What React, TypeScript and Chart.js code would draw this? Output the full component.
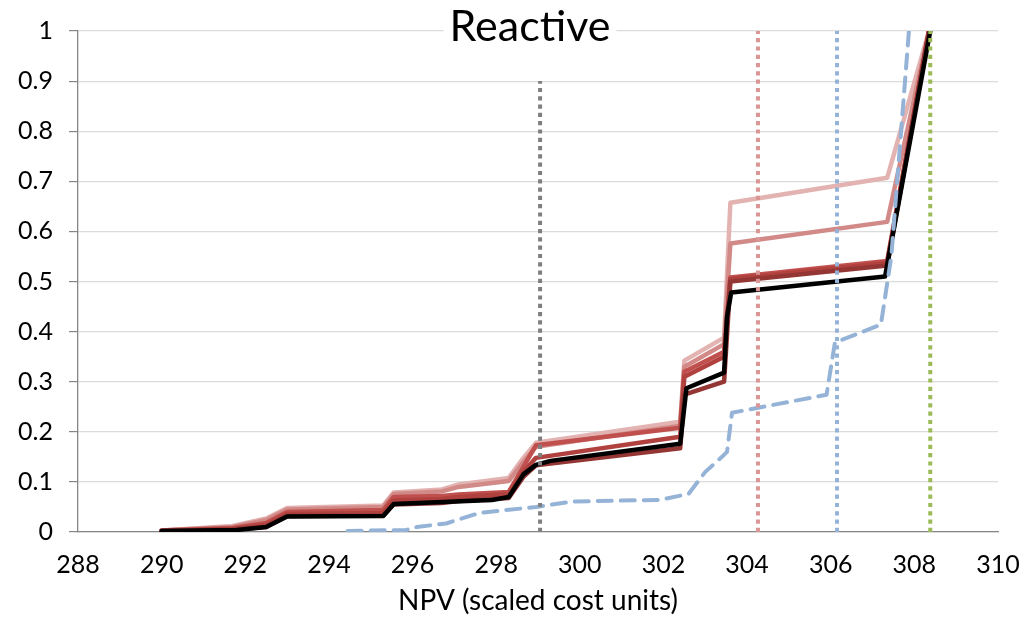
import React, { useEffect, useRef } from "react";
import { Chart, registerables } from "chart.js";

Chart.register(...registerables);

// ---- data ----
const xTickMin = 288;
const xTickMax = 310;
const xStep = 2;
const yStep = 0.1;
const chartTitle = "Reactive";
const xAxisTitle = "NPV (scaled cost units)";

// shared NPV breakpoints of the red CDF curves
const redX = [290, 291.7, 292.5, 293.0, 295.3, 295.55, 296.7, 297.1, 298.3, 298.65, 298.95, 302.4, 302.5, 303.45, 303.6, 307.35, 308.35];
const redA = [0.003, 0.012, 0.027, 0.048, 0.053, 0.079, 0.085, 0.095, 0.108, 0.148, 0.178, 0.22, 0.342, 0.388, 0.657, 0.707, 1.0];
const redB = [0.003, 0.010, 0.024, 0.045, 0.05, 0.076, 0.081, 0.09, 0.102, 0.14, 0.17, 0.212, 0.33, 0.375, 0.576, 0.619, 1.0];
const redC = [0.003, 0.008, 0.018, 0.04, 0.044, 0.07, 0.072, 0.075, 0.08, 0.13, 0.173, 0.208, 0.32, 0.36, 0.508, 0.541, 1.0];
const redD = [0.002, 0.006, 0.014, 0.036, 0.038, 0.063, 0.066, 0.07, 0.076, 0.12, 0.148, 0.19, 0.31, 0.35, 0.505, 0.537, 1.0];
const redE = [0.002, 0.005, 0.01, 0.032, 0.033, 0.055, 0.058, 0.062, 0.068, 0.11, 0.133, 0.167, 0.274, 0.30, 0.5, 0.532, 1.0];

const blackX = [290, 291.8, 292.5, 293.0, 295.3, 295.55, 297.9, 298.3, 298.65, 298.95, 299.3, 302.4, 302.55, 303.45, 303.52, 303.62, 307.3, 308.38];
const blackY = [0.002, 0.004, 0.01, 0.031, 0.032, 0.056, 0.064, 0.07, 0.115, 0.134, 0.142, 0.176, 0.287, 0.318, 0.43, 0.478, 0.51, 1.0];

const blueX = [294.45, 295.85, 296.1, 296.8, 297.6, 298.95, 299.85, 301.9, 302.6, 303.0, 303.4, 303.52, 303.64, 305.9, 306.1, 307.2, 307.45, 307.87];
const blueY = [0.002, 0.004, 0.01, 0.017, 0.038, 0.05, 0.061, 0.064, 0.076, 0.12, 0.15, 0.16, 0.238, 0.274, 0.378, 0.414, 0.551, 1.0];

// vertical reference markers: [x, top y]
const grayMarker = [299.05, 0.9];
const redMarker = [304.26, 1.0];
const blueMarker = [306.15, 1.0];
const greenMarker = [308.38, 1.0];

const pts = (xs: number[], ys: number[]) => xs.map((x, i) => ({ x, y: ys[i] }));
const vline = (m: number[]) => [{ x: m[0], y: 0 }, { x: m[0], y: m[1] }];

const titlePlugin = {
  id: "insideTitle",
  afterDraw(chart: any) {
    const ctx = chart.ctx;
    ctx.save();
    ctx.font = "43px Lato";
    const w = ctx.measureText(chartTitle).width;
    const cx = 530;
    ctx.fillStyle = "#ffffff";
    ctx.fillRect(cx - w / 2 - 6, 6, w + 12, 40);
    ctx.fillStyle = "#000000";
    ctx.textAlign = "center";
    ctx.textBaseline = "alphabetic";
    ctx.fillText(chartTitle, cx, 41);
    ctx.restore();
  },
};

export default function App() {
  const ref = useRef<HTMLCanvasElement | null>(null);

  useEffect(() => {
    if (!ref.current) return;
    const dotted = (data: any, color: string) => ({
      data,
      borderColor: color,
      borderWidth: 4,
      borderDash: [4.2, 4.1],
      borderCapStyle: "butt",
      pointRadius: 0,
      showLine: true,
    });
    const solid = (data: any, color: string, w = 4.5) => ({
      data,
      borderColor: color,
      borderWidth: w,
      pointRadius: 0,
      showLine: true,
      borderJoinStyle: "round",
      borderCapStyle: "round",
    });
    const chart = new Chart(ref.current, {
      type: "scatter",
      data: {
        datasets: [
          dotted(vline(grayMarker), "#7f7f7f"),
          dotted(vline(redMarker), "#d99694"),
          dotted(vline(blueMarker), "#95b3d7"),
          dotted(vline(greenMarker), "#9bbb59"),
          {
            ...solid(pts(blueX, blueY), "#95b3d7", 4),
            borderDash: [14, 9],
            borderCapStyle: "round",
          },
          solid(pts(blackX, blackY), "#000000", 4.5),
          solid(pts(redX, redE), "#943634"),
          solid(pts(redX, redD), "#b0413e"),
          solid(pts(redX, redC), "#c0504d"),
          solid(pts(redX, redB), "#d28a88"),
          solid(pts(redX, redA), "#e3b3b2"),
        ] as any,
      },
      options: {
        animation: false,
        responsive: false,
        maintainAspectRatio: false,
        layout: { padding: { left: 0, right: 36, top: 20, bottom: 0 } },
        plugins: { legend: { display: false }, tooltip: { enabled: false }, title: { display: false } },
        elements: { line: { tension: 0 } },
        scales: {
          x: {
            type: "linear",
            min: xTickMin,
            max: xTickMax,
            ticks: {
              stepSize: xStep,
              color: "#000",
              font: { family: "Lato", size: 25 },
              padding: 10,
              maxRotation: 0,
            },
            grid: { display: false, drawOnChartArea: false, drawTicks: true, tickLength: 8, tickColor: "#868686" },
            border: { display: true, color: "#868686", width: 1.3 },
            title: {
              display: true,
              text: xAxisTitle,
              color: "#000",
              font: { family: "Lato", size: 28 },
              padding: { top: 0, bottom: 2 },
            },
            afterFit: (s: any) => {
              s.height = 88;
            },
          },
          y: {
            type: "linear",
            min: 0,
            max: 1,
            ticks: {
              stepSize: yStep,
              color: "#000",
              font: { family: "Lato", size: 25 },
              padding: 16,
              callback: (v: any) => String(Number(Number(v).toFixed(1))),
            },
            grid: { color: "#dcdcdc", lineWidth: 1.2, tickLength: 9, tickColor: "#868686" },
            border: { display: true, color: "#868686", width: 1.3 },
            afterFit: (s: any) => {
              s.width = 78;
            },
          },
        },
      },
      plugins: [titlePlugin],
    });
    return () => chart.destroy();
  }, []);

  return (
    <div style={{ position: "fixed", left: 0, top: 0, width: 1034, height: 620, background: "#fff" }}>
      <canvas ref={ref} width={1034} height={620} style={{ width: 1034, height: 620, display: "block" }} />
    </div>
  );
}
